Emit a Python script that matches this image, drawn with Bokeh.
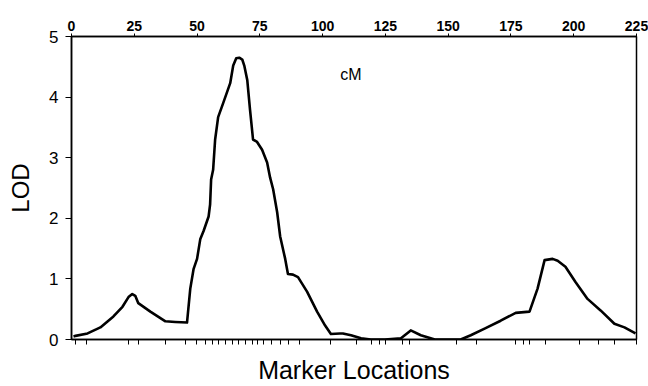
from bokeh.plotting import figure
from bokeh.models import LinearAxis, FixedTicker, Range1d, Label, CustomJSTickFormatter
from bokeh.embed import file_html
from bokeh.resources import INLINE

# LOD profile (cM position, LOD score)
cm = [0.8, 1.6, 6.4, 11.5, 16.7, 20.3, 22.7, 24.2, 25.4, 26.6, 31.4, 37.4, 41.3, 46.0,
      47.3, 48.6, 50.0, 51.3, 52.6, 54.6, 55.2, 55.6, 56.4, 57.2, 58.4, 60.4, 63.2, 64.4,
      65.6, 66.8, 68.0, 68.8, 70.0, 71.1, 72.3, 73.9, 75.9, 77.9, 79.1, 80.3, 81.9, 83.1,
      85.1, 86.2, 88.2, 90.2, 93.8, 97.8, 101.0, 103.3, 106.9, 108.1, 111.3, 115.3, 119.2,
      124.8, 131.2, 135.1, 139.1, 144.7, 155.0, 159.0, 164.5, 170.9, 176.9, 182.4, 185.6,
      188.4, 191.6, 193.6, 196.7, 200.7, 205.5, 210.7, 216.2, 220.2, 224.6]
lod = [0.05, 0.06, 0.10, 0.20, 0.38, 0.54, 0.70, 0.75, 0.72, 0.60, 0.46, 0.30, 0.29, 0.28,
       0.84, 1.16, 1.33, 1.66, 1.79, 2.03, 2.23, 2.64, 2.80, 3.30, 3.67, 3.90, 4.23, 4.52,
       4.64, 4.65, 4.62, 4.52, 4.28, 3.79, 3.30, 3.26, 3.13, 2.92, 2.67, 2.48, 2.10, 1.70,
       1.33, 1.08, 1.07, 1.03, 0.79, 0.46, 0.23, 0.09, 0.10, 0.10, 0.07, 0.02, 0.00,
       0.00, 0.02, 0.15, 0.07, 0.00, 0.00, 0.07, 0.18, 0.31, 0.44, 0.46, 0.84,
       1.31, 1.33, 1.30, 1.20, 0.95, 0.67, 0.48, 0.26, 0.20, 0.10]

# marker positions (cM) shown as ticks on the bottom axis
markers = [1.6, 6.0, 22.7, 26.6, 37.4, 45.3, 49.7, 53.3, 56.0, 58.4, 61.2, 64.0, 66.4,
           69.2, 71.9, 73.9, 76.3, 79.5, 83.1, 86.6, 90.6, 103.3, 113.3, 119.4, 122.8,
           125.0, 132.0, 134.7, 153.4, 161.4, 177.0, 180.0, 182.5, 188.8, 202.3, 209.9,
           216.2, 225.0]

cm_ticks = [0, 25, 50, 75, 100, 125, 150, 175, 200, 225]
lod_ticks = [0, 1, 2, 3, 4, 5]

FONT = "Liberation Sans"

p = figure(width=648, height=386, output_backend="svg", toolbar_location=None,
           x_range=Range1d(0, 225), y_range=Range1d(0, 5),
           x_axis_location=None, y_axis_location=None,
           min_border_left=71, min_border_top=36, min_border_right=12, min_border_bottom=45)
p.grid.visible = False
p.outline_line_color = "black"
p.outline_line_width = 1.5
p.background_fill_color = "white"
p.border_fill_color = "white"

# top cM axis
top = LinearAxis(ticker=FixedTicker(ticks=cm_ticks))
top.major_label_text_font = FONT
top.major_label_text_font_style = "bold"
top.major_label_text_font_size = "14px"
top.major_label_text_color = "black"
top.major_tick_out = 3
top.major_tick_in = 0
top.minor_tick_line_color = None
top.major_label_standoff = 3
top.axis_line_width = 1.5
p.add_layout(top, "above")

# left LOD axis
left = LinearAxis(ticker=FixedTicker(ticks=lod_ticks), axis_label="LOD")
left.major_label_text_font = FONT
left.major_label_text_font_size = "17px"
left.major_label_text_color = "black"
left.axis_label_text_font = FONT
left.axis_label_text_font_size = "24px"
left.axis_label_text_font_style = "normal"
left.axis_label_text_color = "black"
left.major_tick_out = 6
left.major_tick_in = 0
left.minor_tick_line_color = None
left.major_label_standoff = 7
left.axis_label_standoff = 12
left.axis_line_width = 1.5
p.add_layout(left, "left")

# bottom marker axis (ticks only)
bottom = LinearAxis(ticker=FixedTicker(ticks=markers), axis_label="Marker Locations",
                    formatter=CustomJSTickFormatter(code="return ''"))
bottom.major_label_standoff = 0
bottom.major_tick_out = 5
bottom.major_tick_in = 0
bottom.minor_tick_line_color = None
bottom.axis_label_text_font = FONT
bottom.axis_label_text_font_size = "25px"
bottom.axis_label_text_font_style = "normal"
bottom.axis_label_text_color = "black"
bottom.axis_label_standoff = 11
bottom.axis_line_width = 1.5
p.add_layout(bottom, "below")

p.line(cm, lod, line_color="black", line_width=2.6, line_join="round")

p.add_layout(Label(x=107, y=4.38, text="cM", text_font=FONT, text_font_size="16px",
                   text_baseline="alphabetic", text_color="black"))

open("out.html", "w").write(file_html(p, INLINE))
